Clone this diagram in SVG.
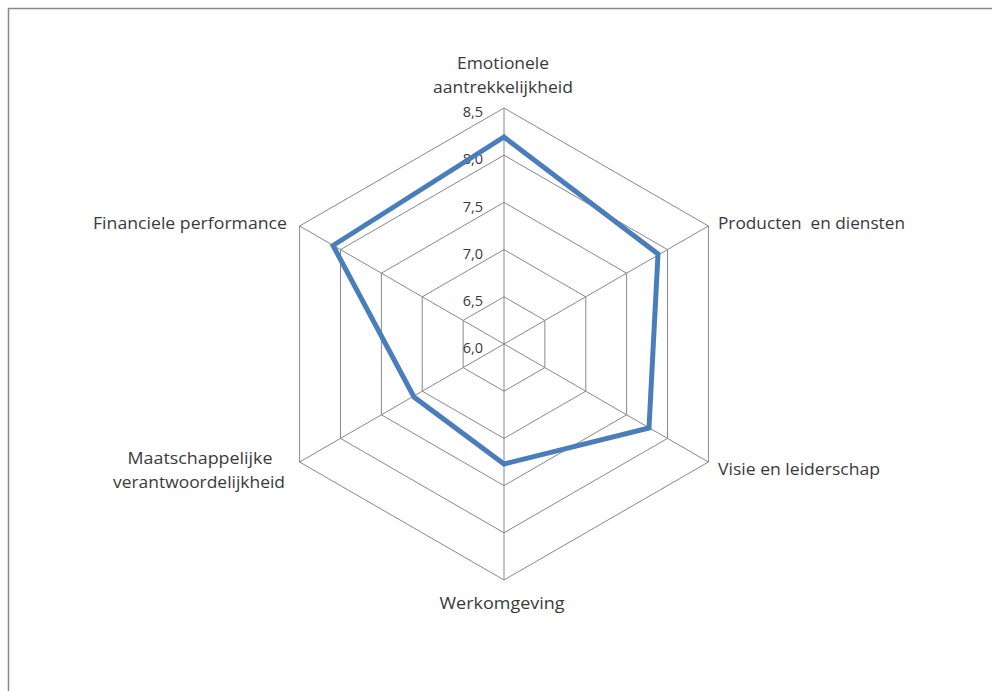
<svg xmlns="http://www.w3.org/2000/svg" width="992" height="691" viewBox="0 0 992 691">
<style>
.grid{fill:none;stroke:#888888;stroke-width:1}
.lbl{font-family:"Open Sans","Liberation Sans",sans-serif;font-size:15.5px;fill:#3a3a3a}
.tick{font-family:"Open Sans","Liberation Sans",sans-serif;font-size:14.5px;fill:#3a3a3a;text-anchor:end}
.data{fill:none;stroke:#4a7ebb;stroke-width:5;stroke-linejoin:miter}
</style>
<rect x="0" y="0" width="992" height="691" fill="#ffffff"/>
<path d="M8.5,691 V8.5 H992" fill="none" stroke="#8a8a8a" stroke-width="1.5"/>
<g id="grid">
<polygon class="grid" points="504,296.8 544.88,320.4 544.88,367.6 504,391.2 463.12,367.6 463.12,320.4"/>
<polygon class="grid" points="504,249.6 585.75,296.8 585.75,391.2 504,438.4 422.25,391.2 422.25,296.8"/>
<polygon class="grid" points="504,202.4 626.63,273.2 626.63,414.8 504,485.6 381.37,414.8 381.37,273.2"/>
<polygon class="grid" points="504,155.2 667.5,249.6 667.5,438.4 504,532.8 340.5,438.4 340.5,249.6"/>
<polygon class="grid" points="504,108 708.38,226 708.38,462 504,580 299.62,462 299.62,226"/>
</g>
<g id="connectors">
<line class="grid" x1="504" y1="344" x2="504" y2="108"/>
<line class="grid" x1="504" y1="344" x2="708.38" y2="226"/>
<line class="grid" x1="504" y1="344" x2="708.38" y2="462"/>
<line class="grid" x1="504" y1="344" x2="504" y2="580"/>
<line class="grid" x1="504" y1="344" x2="299.62" y2="462"/>
<line class="grid" x1="504" y1="344" x2="299.62" y2="226"/>
</g>
<g id="ticks">
<text class="tick" x="483" y="117">8,5</text>
<text class="tick" x="483" y="164">8,0</text>
<text class="tick" x="483" y="212">7,5</text>
<text class="tick" x="483" y="259">7,0</text>
<text class="tick" x="483" y="306">6,5</text>
<text class="tick" x="483" y="353">6,0</text>
</g>
<g id="series">
<polygon class="data" points="504,137 658,254 649,428 504,464 414,397 333,245.5"/>
</g>
<g id="label-emotionele">
<text class="lbl" x="503" y="69" text-anchor="middle" textLength="92" lengthAdjust="spacingAndGlyphs">Emotionele</text>
<text class="lbl" x="503" y="93" text-anchor="middle" textLength="140" lengthAdjust="spacingAndGlyphs">aantrekkelijkheid</text>
</g>
<g id="label-producten">
<text class="lbl" x="718" y="229" textLength="187" lengthAdjust="spacingAndGlyphs" xml:space="preserve">Producten  en diensten</text>
</g>
<g id="label-visie">
<text class="lbl" x="718" y="475" textLength="162" lengthAdjust="spacingAndGlyphs">Visie en leiderschap</text>
</g>
<g id="label-werkomgeving">
<text class="lbl" x="502" y="609" text-anchor="middle" textLength="125" lengthAdjust="spacingAndGlyphs">Werkomgeving</text>
</g>
<g id="label-maatschappelijke">
<text class="lbl" x="200" y="464" text-anchor="middle" textLength="145" lengthAdjust="spacingAndGlyphs">Maatschappelijke</text>
<text class="lbl" x="199" y="488" text-anchor="middle" textLength="172" lengthAdjust="spacingAndGlyphs">verantwoordelijkheid</text>
</g>
<g id="label-financiele">
<text class="lbl" x="93" y="229" textLength="194" lengthAdjust="spacingAndGlyphs">Financiele performance</text>
</g>
</svg>
